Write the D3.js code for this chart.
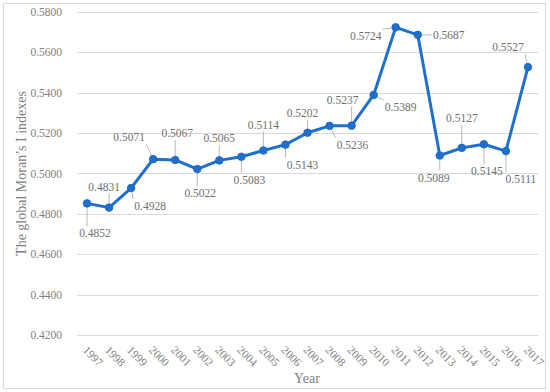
<!DOCTYPE html>
<html>
<head>
<meta charset="utf-8">
<style>
    body { margin: 0; background: #fff; }
    svg { display: block; font-family: 'Liberation Serif', 'DejaVu Serif', serif; }
    .grid line { stroke: #d9d9d9; stroke-width: 1; }
    .tick-lab { font-size: 11.5px; fill: #7f7f7f; }
    .val-lab { font-size: 11.5px; fill: #6f6f6f; }
    .leader { stroke: #a6a6a6; stroke-width: 0.8; fill: none; }
    .axis-title { font-size: 14px; fill: #7f7f7f; }
</style>
</head>
<body>
<svg width="550" height="392"></svg>
<script src="https://d3js.org/d3.v7.min.js"></script>
<script>
    // data
    let years = ["1997", "1998", "1999", "2000", "2001", "2002", "2003", "2004", "2005", "2006", "2007",
                 "2008", "2009", "2010", "2011", "2012", "2013", "2014", "2015", "2016", "2017"];
    let moran = [0.4852, 0.4831, 0.4928, 0.5071, 0.5067, 0.5022, 0.5065, 0.5083, 0.5114, 0.5143, 0.5202,
                 0.5236, 0.5237, 0.5389, 0.5724, 0.5687, 0.5089, 0.5127, 0.5145, 0.5111, 0.5527];
    let yTicks = [0.42, 0.44, 0.46, 0.48, 0.50, 0.52, 0.54, 0.56, 0.58];

    // where each data label sits relative to its point (layout only)
    let labelShift = [[8, 30], [-5, -21], [19, 18], [-24, -22], [2, -27], [3, 24], [0, -22], [8, 23],
                      [0, -26], [17, 20], [-5, -20], [23, 19], [-9, -26], [27, 12], [-30, 9], [31, 0],
                      [-6, 22], [0, -30], [3, 27], [15, 28], [-20, -20]];

    let svg = d3.select("svg");
    let margin = { top: 12, right: 11, bottom: 57, left: 76 };
    let width = 550, height = 392;

    svg.append("rect")
        .attr("x", 3.5).attr("y", 3.5)
        .attr("width", 542).attr("height", 385)
        .attr("fill", "#fff")
        .attr("stroke", "#d9d9d9");

    let x = d3.scalePoint()
        .domain(years)
        .range([margin.left, width - margin.right])
        .padding(0.5);

    let y = d3.scaleLinear()
        .domain([0.42, 0.58])
        .range([height - margin.bottom, margin.top]);

    // gridlines
    svg.append("g").attr("class", "grid")
        .selectAll("line")
        .data(yTicks)
        .join("line")
        .attr("x1", margin.left + 1)
        .attr("x2", width - margin.right - 1)
        .attr("y1", d => Math.round(y(d)) + 0.5)
        .attr("y2", d => Math.round(y(d)) + 0.5);

    // y tick labels
    svg.append("g")
        .selectAll("text")
        .data(yTicks)
        .join("text")
        .attr("class", "tick-lab")
        .attr("x", 62)
        .attr("y", d => y(d))
        .attr("dy", "0.35em")
        .attr("text-anchor", "end")
        .text(d => d3.format(".4f")(d));

    // x tick labels, rotated
    svg.append("g")
        .selectAll("text")
        .data(years)
        .join("text")
        .attr("class", "tick-lab")
        .attr("text-anchor", "start")
        .attr("transform", d => `translate(${x(d) - 2},${height - margin.bottom + 13}) rotate(45)`)
        .attr("dy", "0.35em")
        .text(d => d);

    let pts = years.map((yr, i) => ({ yr: yr, v: moran[i], px: x(yr), py: y(moran[i]),
        lx: x(yr) + labelShift[i][0], ly: y(moran[i]) + labelShift[i][1] }));

    // leader lines from point to label box
    let bw = 17, bh = 7;
    svg.append("g")
        .selectAll("line")
        .data(pts)
        .join("line")
        .attr("class", "leader")
        .attr("x1", d => d.px)
        .attr("y1", d => d.py)
        .attr("x2", d => Math.max(d.lx - bw, Math.min(d.px, d.lx + bw)))
        .attr("y2", d => Math.max(d.ly - bh, Math.min(d.py, d.ly + bh)));

    let line = d3.line()
        .x(d => d.px)
        .y(d => d.py);

    svg.append("path")
        .datum(pts)
        .attr("d", line)
        .attr("fill", "none")
        .attr("stroke", "#1f6fcf")
        .attr("stroke-width", 3)
        .attr("stroke-linejoin", "round");

    svg.append("g")
        .selectAll("circle")
        .data(pts)
        .join("circle")
        .attr("cx", d => d.px)
        .attr("cy", d => d.py)
        .attr("r", 3.8)
        .attr("fill", "#1f6fcf")
        .attr("stroke", "#1a64bd")
        .attr("stroke-width", 0.8);

    svg.append("g")
        .selectAll("text")
        .data(pts)
        .join("text")
        .attr("class", "val-lab")
        .attr("x", d => d.lx)
        .attr("y", d => d.ly)
        .attr("dy", "0.35em")
        .attr("text-anchor", "middle")
        .text(d => d3.format(".4f")(d.v));

    svg.append("text")
        .attr("class", "axis-title")
        .attr("transform", `translate(26,${(margin.top + height - margin.bottom) / 2}) rotate(-90)`)
        .attr("text-anchor", "middle")
        .text("The global Moran\u2019s I indexes");

    svg.append("text")
        .attr("class", "axis-title")
        .attr("x", 307)
        .attr("y", 383)
        .attr("text-anchor", "middle")
        .text("Year");
</script>
</body>
</html>
